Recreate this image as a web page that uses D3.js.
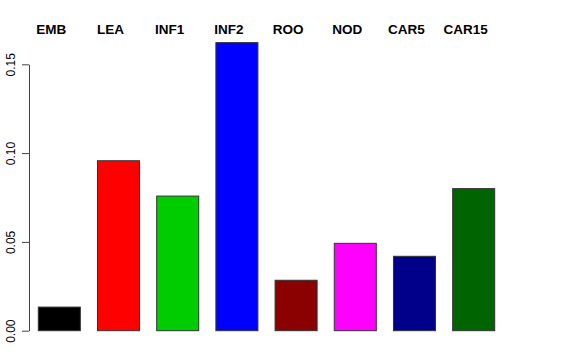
<!DOCTYPE html>
<html><head><meta charset="utf-8">
<script src="https://cdn.jsdelivr.net/npm/d3@7"></script>
<style>body{margin:0;background:#fff;}svg{display:block;}</style>
</head><body>
<script>
const categories = ["EMB","LEA","INF1","INF2","ROO","NOD","CAR5","CAR15"];
const values = [0.0133, 0.0957, 0.0758, 0.1622, 0.0284, 0.0492, 0.0419, 0.0800];
const colors = ["#000000","#FF0000","#00CD00","#0000FF","#8B0000","#FF00FF","#00008B","#006400"];
const yTicks = [0, 0.05, 0.10, 0.15];
const yTickLabels = ["0.00","0.05","0.10","0.15"];

const W = 576, H = 360;
const svg = d3.select("body").append("svg").attr("width", W).attr("height", H);

const x = d3.scaleBand().domain(categories).range([38.3, 494.7]).paddingInner(0.29).paddingOuter(0);
const y = d3.scaleLinear().domain([0, 0.15]).range([330.7, 64.3]);

svg.append("g").selectAll("rect").data(categories).join("rect")
  .attr("x", d => x(d))
  .attr("y", (d, i) => y(values[i]))
  .attr("width", x.bandwidth())
  .attr("height", (d, i) => y(0) - y(values[i]))
  .attr("fill", (d, i) => colors[i])
  .attr("stroke", "#333")
  .attr("stroke-width", 1);

const axis = d3.axisLeft(y).tickValues(yTicks).tickFormat((d, i) => yTickLabels[i]).tickSize(7).tickSizeOuter(0);
const gy = svg.append("g").attr("transform", "translate(29,0)").call(axis);
gy.select(".domain").attr("stroke", "#444");
gy.selectAll(".tick line").attr("stroke", "#444");
gy.selectAll(".tick text")
  .attr("font-family", "Liberation Sans, Arial, sans-serif")
  .attr("font-size", 12)
  .attr("fill", "#000")
  .attr("text-anchor", "middle")
  .attr("x", 0).attr("dy", 0)
  .attr("transform", "translate(-14.5,0) rotate(-90)");

svg.append("g").selectAll("text").data(categories).join("text")
  .attr("x", d => x(d) + x.bandwidth() / 2 - 8)
  .attr("y", 33.5)
  .attr("text-anchor", "middle")
  .attr("font-family", "Liberation Sans, Arial, sans-serif")
  .attr("font-weight", "bold")
  .attr("font-size", 13.5)
  .text(d => d);
</script>
</body></html>
